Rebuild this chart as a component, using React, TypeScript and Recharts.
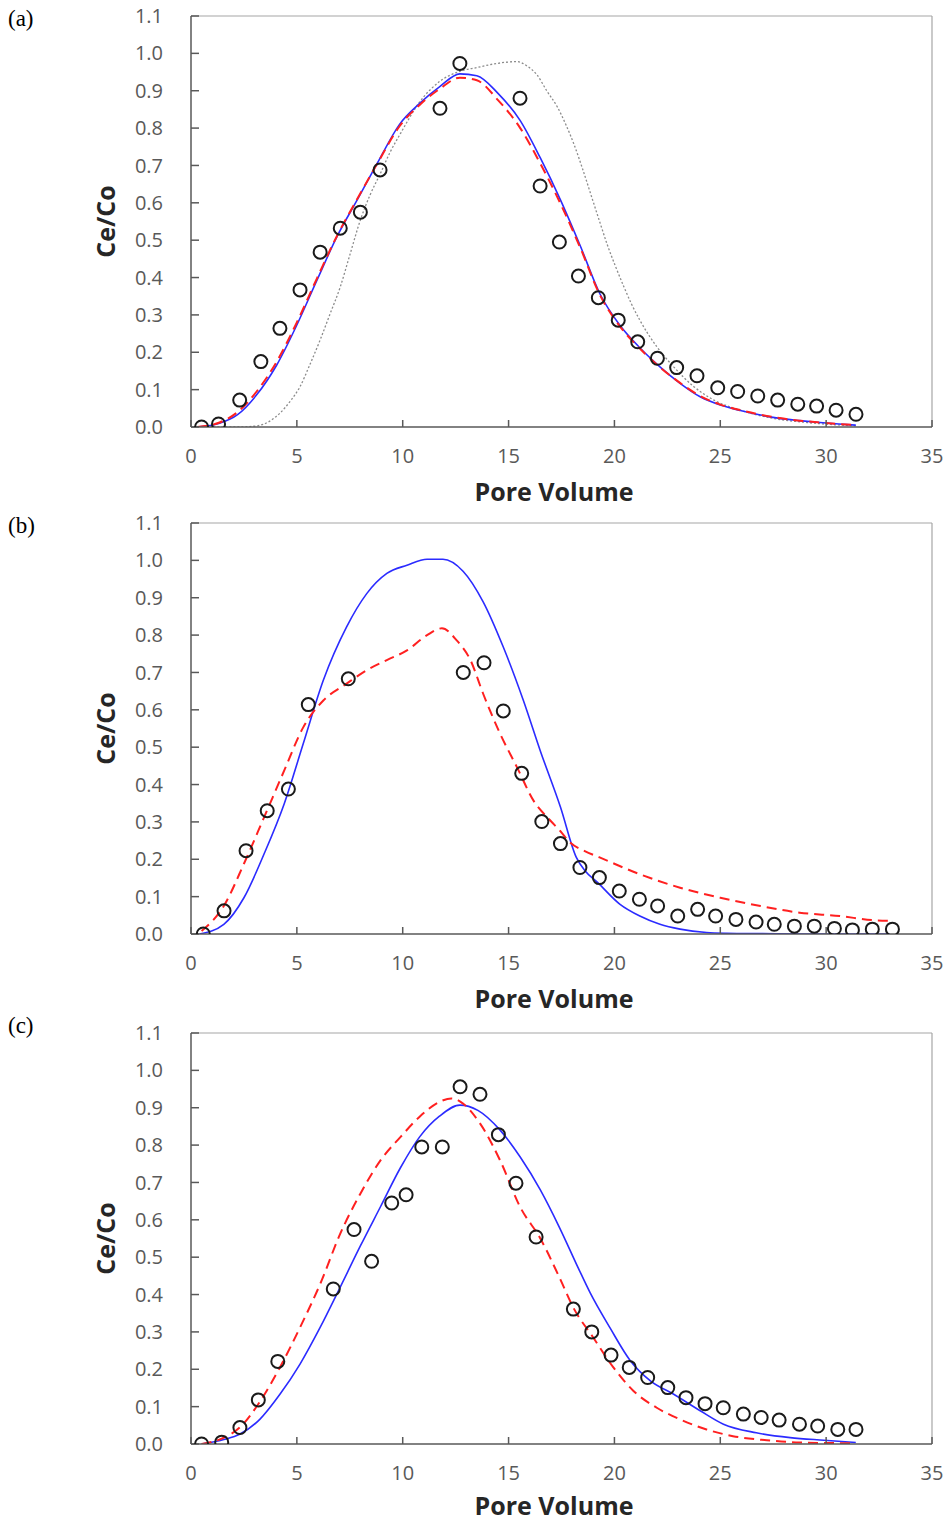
import { ComposedChart, Line, Scatter, XAxis, YAxis, ReferenceLine } from "recharts";

const xTicks = [0, 5, 10, 15, 20, 25, 30, 35];
const yTicks = [0, 0.1, 0.2, 0.3, 0.4, 0.5, 0.6, 0.7, 0.8, 0.9, 1.0, 1.1];

// panel (a)
const obsA = [
  [0.5, 0], [1.3, 0.008], [2.3, 0.072], [3.3, 0.175], [4.2, 0.264], [5.15, 0.367],
  [6.1, 0.468], [7.05, 0.532], [8.0, 0.575], [8.93, 0.688], [11.76, 0.853], [12.7, 0.973],
  [15.54, 0.88], [16.49, 0.645], [17.4, 0.495], [18.3, 0.404], [19.24, 0.346], [20.18, 0.286],
  [21.1, 0.228], [22.03, 0.184], [22.94, 0.159], [23.9, 0.137], [24.88, 0.105], [25.82, 0.095],
  [26.77, 0.083], [27.71, 0.072], [28.66, 0.061], [29.55, 0.056], [30.47, 0.045], [31.41, 0.034],
];
const blueA = [
  [0.3, 0], [1.35, 0.01], [2.2, 0.033], [3.1, 0.086], [4.05, 0.166], [5.0, 0.273], [5.95, 0.393],
  [6.9, 0.51], [7.85, 0.608], [8.8, 0.706], [9.85, 0.81], [10.8, 0.866], [11.75, 0.911],
  [12.7, 0.945], [13.5, 0.94], [14.5, 0.893], [15.55, 0.82], [16.5, 0.72], [17.45, 0.608],
  [18.4, 0.483], [19.3, 0.358], [20.25, 0.273], [21.2, 0.212], [22.15, 0.161], [23.1, 0.117],
  [24.05, 0.081], [25.0, 0.059], [25.95, 0.044], [26.9, 0.032], [27.8, 0.023], [28.75, 0.017],
  [29.7, 0.012], [30.6, 0.008], [31.4, 0.005],
];
const redA = [
  [0.3, 0], [1.35, 0.012], [2.2, 0.04], [3.1, 0.095], [4.05, 0.175], [5.0, 0.28], [5.95, 0.398],
  [6.9, 0.512], [7.85, 0.61], [8.8, 0.705], [9.85, 0.805], [10.8, 0.862], [11.75, 0.905],
  [12.7, 0.935], [13.5, 0.928], [14.5, 0.875], [15.55, 0.8], [16.5, 0.705], [17.45, 0.598],
  [18.4, 0.478], [19.3, 0.355], [20.25, 0.27], [21.2, 0.21], [22.15, 0.16], [23.1, 0.118],
  [24.05, 0.083], [25.0, 0.06], [25.95, 0.045], [26.9, 0.033], [27.8, 0.024], [28.75, 0.017],
  [29.7, 0.012], [30.6, 0.008], [31.4, 0.005],
];
const greyA = [
  [0.3, 0], [2.2, 0], [3.1, 0.003], [3.7, 0.015], [4.2, 0.037], [4.7, 0.07], [5.15, 0.108],
  [5.6, 0.165], [6.1, 0.233], [6.55, 0.3], [7.05, 0.375], [7.5, 0.46], [8.0, 0.554], [8.45, 0.62],
  [8.95, 0.679], [9.4, 0.735], [9.9, 0.786], [10.8, 0.87], [11.75, 0.925], [12.7, 0.952],
  [13.5, 0.962], [14.45, 0.973], [15.4, 0.978], [15.9, 0.965], [16.35, 0.942], [16.8, 0.9],
  [17.3, 0.857], [17.7, 0.81], [18.1, 0.755], [18.5, 0.69], [18.9, 0.62], [19.3, 0.55],
  [19.65, 0.49], [20.05, 0.43], [20.45, 0.375], [20.8, 0.33], [21.2, 0.286], [22.0, 0.215],
  [22.8, 0.161], [23.75, 0.108], [24.7, 0.072], [25.95, 0.045], [27.5, 0.023], [29.1, 0.012],
  [30.7, 0.005], [31.4, 0.003],
];

// panel (b)
const obsB = [
  [0.58, 0], [1.56, 0.062], [2.6, 0.223], [3.6, 0.33], [4.6, 0.388], [5.54, 0.614], [7.43, 0.683],
  [12.86, 0.7], [13.84, 0.726], [14.75, 0.597], [15.62, 0.43], [16.57, 0.301], [17.45, 0.242],
  [18.37, 0.178], [19.29, 0.151], [20.23, 0.115], [21.18, 0.093], [22.04, 0.075], [22.99, 0.048],
  [23.93, 0.066], [24.78, 0.048], [25.74, 0.039], [26.69, 0.032], [27.55, 0.026], [28.5, 0.021],
  [29.44, 0.021], [30.39, 0.015], [31.24, 0.011], [32.18, 0.013], [33.13, 0.013],
];
const blueB = [
  [0.4, 0], [1.55, 0.026], [2.5, 0.097], [3.45, 0.214], [4.4, 0.348], [5.3, 0.509], [6.25, 0.679],
  [7.35, 0.822], [8.3, 0.911], [9.25, 0.965], [10.2, 0.987], [11.15, 1.003], [11.9, 1.003],
  [12.85, 0.971], [13.8, 0.889], [14.75, 0.768], [15.7, 0.625], [16.5, 0.49], [17.45, 0.34],
  [18.2, 0.205], [18.6, 0.17], [19.2, 0.138], [20.25, 0.08], [21.2, 0.048], [22.15, 0.026],
  [23.1, 0.013], [24.35, 0.004], [25.3, 0.002], [27.0, 0.001], [29.0, 0], [31.0, 0], [33.0, 0],
];
const redB = [
  [0.5, 0.008], [1.55, 0.075], [2.5, 0.188], [3.45, 0.312], [4.4, 0.437], [5.3, 0.553],
  [6.25, 0.625], [7.35, 0.67], [8.3, 0.706], [9.25, 0.733], [10.2, 0.759], [11.15, 0.8],
  [11.85, 0.818], [12.55, 0.786], [13.2, 0.733], [13.8, 0.643], [14.6, 0.536], [15.4, 0.446],
  [16.2, 0.355], [16.95, 0.305], [17.45, 0.275], [17.9, 0.245], [18.6, 0.222], [19.3, 0.205],
  [21.2, 0.16], [23.1, 0.124], [25.0, 0.097], [26.9, 0.075], [28.75, 0.057], [30.65, 0.048],
  [32.2, 0.037], [33.0, 0.035],
];

// panel (c)
const obsC = [
  [0.5, 0], [1.45, 0.005], [2.31, 0.044], [3.18, 0.118], [4.1, 0.221], [6.72, 0.415], [7.7, 0.574],
  [8.53, 0.489], [9.48, 0.645], [10.16, 0.667], [10.9, 0.795], [11.87, 0.795], [12.71, 0.956],
  [13.65, 0.936], [14.52, 0.828], [15.35, 0.698], [16.3, 0.554], [18.06, 0.361], [18.93, 0.3],
  [19.84, 0.238], [20.7, 0.205], [21.57, 0.178], [22.52, 0.151], [23.38, 0.124], [24.28, 0.108],
  [25.14, 0.097], [26.09, 0.08], [26.93, 0.071], [27.78, 0.064], [28.74, 0.053], [29.6, 0.048],
  [30.55, 0.039], [31.41, 0.039],
];
const blueC = [
  [0.5, 0], [1.55, 0.012], [2.3, 0.026], [3.25, 0.066], [4.2, 0.133], [5.15, 0.214], [6.1, 0.312],
  [7.05, 0.42], [8.0, 0.53], [8.95, 0.635], [9.9, 0.74], [10.8, 0.822], [11.75, 0.878],
  [12.7, 0.907], [13.55, 0.893], [14.6, 0.84], [15.55, 0.768], [16.5, 0.68], [17.4, 0.58],
  [18.3, 0.47], [18.85, 0.405], [19.8, 0.31], [20.75, 0.223], [21.7, 0.169], [22.8, 0.133],
  [24.05, 0.089], [25.15, 0.053], [26.7, 0.03], [28.3, 0.017], [29.9, 0.01], [31.4, 0.004],
];
const redC = [
  [0.5, 0], [1.55, 0.017], [2.3, 0.044], [3.25, 0.113], [4.2, 0.205], [5.15, 0.312], [6.1, 0.428],
  [7.05, 0.563], [8.0, 0.67], [8.95, 0.759], [9.9, 0.822], [10.8, 0.876], [11.75, 0.916],
  [12.3, 0.925], [12.85, 0.911], [13.65, 0.858], [14.6, 0.759], [15.55, 0.634], [16.5, 0.55],
  [17.45, 0.44], [18.05, 0.366], [19.0, 0.285], [19.95, 0.205], [20.9, 0.142], [22.0, 0.097],
  [23.1, 0.066], [24.35, 0.039], [25.6, 0.021], [27.2, 0.01], [28.75, 0.004], [31.4, 0.002],
];

const toPts = (arr: number[][]) => arr.map(([x, y]) => ({ x, y }));

const AXIS = "#595959";
const TICK_FONT = { fill: "#595959", fontSize: 20, fontFamily: "Open Sans" };
const PLOT_H = 411;

interface PanelProps {
  tag: string;
  tagY: number;
  top: number;
  height: number;
  titleY: number;
  obs: number[][];
  blue: number[][];
  red: number[][];
  grey?: number[][];
}

const Panel = ({ tag, tagY, top, height, titleY, obs, blue, red, grey }: PanelProps) => {
  const midY = top + PLOT_H / 2;
  const yLabel = () => (
    <g>
      <text x={8} y={tagY} fontFamily="Liberation Serif" fontSize={23} fill="#000">
        {tag}
      </text>
      <text
        x={115}
        y={midY}
        transform={`rotate(-90 115 ${midY})`}
        textAnchor="middle"
        fontFamily="Open Sans"
        fontWeight="bold"
        fontSize={25}
        fill="#262626"
      >
        Ce/Co
      </text>
    </g>
  );
  const xLabel = () => (
    <text
      x={554}
      y={titleY}
      textAnchor="middle"
      fontFamily="Open Sans"
      fontWeight="bold"
      fontSize={25}
      fill="#262626"
    >
      Pore Volume
    </text>
  );

  return (
    <ComposedChart
      width={946}
      height={height}
      margin={{ top, right: 14, bottom: 0, left: 0 }}
    >
      <XAxis
        type="number"
        dataKey="x"
        domain={[0, 35]}
        ticks={xTicks}
        interval={0}
        allowDataOverflow
        height={height - top - PLOT_H}
        tickSize={-7}
        tickMargin={29}
        axisLine={{ stroke: AXIS, strokeWidth: 1.5 }}
        tickLine={{ stroke: AXIS, strokeWidth: 1.5 }}
        tick={TICK_FONT}
        label={xLabel}
      />
      <YAxis
        type="number"
        dataKey="y"
        domain={[0, 1.1]}
        ticks={yTicks}
        interval={0}
        allowDataOverflow
        width={191}
        tickSize={-8}
        tickMargin={36}
        tickFormatter={(v: number) => v.toFixed(1)}
        axisLine={{ stroke: AXIS, strokeWidth: 1.5 }}
        tickLine={{ stroke: AXIS, strokeWidth: 1.5 }}
        tick={TICK_FONT}
        label={yLabel}
      />
      <ReferenceLine y={1.1} stroke="#a6a6a6" strokeWidth={1.2} />
      <ReferenceLine x={35} stroke="#a6a6a6" strokeWidth={1.2} />
      {grey && (
        <Line
          data={toPts(grey)}
          dataKey="y"
          type="monotone"
          stroke="#8c8c8c"
          strokeWidth={1.3}
          strokeDasharray="2 2"
          dot={false}
          activeDot={false}
          isAnimationActive={false}
        />
      )}
      <Line
        data={toPts(blue)}
        dataKey="y"
        type="monotone"
        stroke="#2b2bff"
        strokeWidth={1.6}
        dot={false}
        activeDot={false}
        isAnimationActive={false}
      />
      <Line
        data={toPts(red)}
        dataKey="y"
        type="monotone"
        stroke="#ff2020"
        strokeWidth={2}
        strokeDasharray="10 6"
        dot={false}
        activeDot={false}
        isAnimationActive={false}
      />
      <Scatter
        data={toPts(obs)}
        dataKey="y"
        isAnimationActive={false}
        shape={(p: any) => (
          <circle cx={p.cx} cy={p.cy} r={6.5} fill="none" stroke="#1a1a1a" strokeWidth={2} />
        )}
      />
    </ComposedChart>
  );
};

export default function App() {
  return (
    <div
      style={{
        position: "absolute",
        left: 0,
        top: 0,
        width: 946,
        height: 1523,
        background: "#fff",
        overflow: "hidden",
      }}
    >
      <div style={{ position: "absolute", left: 0, top: 0 }}>
        <Panel tag="(a)" tagY={26} top={16} height={515} titleY={501}
          obs={obsA} blue={blueA} red={redA} grey={greyA} />
      </div>
      <div style={{ position: "absolute", left: 0, top: 507 }}>
        <Panel tag="(b)" tagY={26} top={16} height={515} titleY={501}
          obs={obsB} blue={blueB} red={redB} />
      </div>
      <div style={{ position: "absolute", left: 0, top: 1007 }}>
        <Panel tag="(c)" tagY={26} top={26} height={516} titleY={508}
          obs={obsC} blue={blueC} red={redC} />
      </div>
    </div>
  );
}
